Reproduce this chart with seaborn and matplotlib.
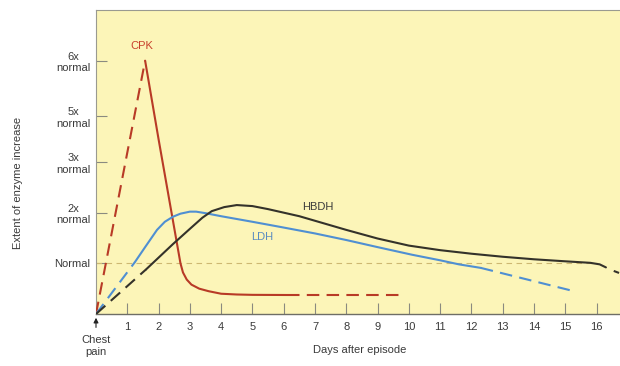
import matplotlib
matplotlib.use('Agg')
import matplotlib.pyplot as plt
import seaborn as sns
import pandas as pd

# ---- data (days after episode, multiple of normal on a stretched scale)
cpk_rise_days = [0, 1.57]
cpk_rise_vals = [0, 5.0]
cpk_fall_days = [1.57, 2.0, 2.4, 2.6, 2.7, 2.78, 2.9, 3.05, 3.3, 3.6, 4.0, 4.5, 5.0, 6.1]
cpk_fall_vals = [5.0, 3.45, 2.05, 1.35, 1.0, 0.82, 0.68, 0.58, 0.5, 0.45, 0.40, 0.385, 0.378, 0.375]
cpk_tail_days = [6.1, 9.8]
cpk_tail_vals = [0.375, 0.375]

ldh_rise_days = [0, 1.25]
ldh_rise_vals = [0, 1.03]
ldh_days = [1.25, 1.57, 1.95, 2.2, 2.46, 2.7, 3.0, 3.2, 3.5, 4.0, 5.0, 5.88, 7.0, 8.0,
            9.0, 10.1, 11.0, 11.6, 12.3]
ldh_vals = [1.03, 1.32, 1.66, 1.82, 1.92, 1.98, 2.02, 2.02, 1.99, 1.93, 1.82, 1.72, 1.59,
            1.46, 1.32, 1.17, 1.06, 0.98, 0.91]
ldh_tail_days = [12.3, 15.15]
ldh_tail_vals = [0.91, 0.47]

hbdh_rise_days = [0, 1.6]
hbdh_rise_vals = [0, 0.88]
hbdh_days = [1.6, 2.46, 3.0, 3.4, 3.7, 4.1, 4.5, 5.0, 5.5, 6.0, 6.5, 7.0, 7.5, 8.0, 9.0,
             10.0, 11.0, 12.0, 13.0, 14.0, 15.0, 15.8, 16.1, 16.3]
hbdh_vals = [0.88, 1.38, 1.68, 1.9, 2.03, 2.11, 2.15, 2.13, 2.07, 2.0, 1.93, 1.84, 1.75,
             1.66, 1.49, 1.35, 1.26, 1.19, 1.13, 1.08, 1.04, 1.01, 0.98, 0.92]
hbdh_tail_days = [16.55, 16.72]
hbdh_tail_vals = [0.85, 0.81]

day_ticks = list(range(1, 17))
level_ticks = [1, 2, 3, 3.9, 5]
level_labels = ['Normal', '2x\nnormal', '3x\nnormal', '5x\nnormal', '6x\nnormal']

# ---- style
sns.set_style('ticks')
plt.rcParams['font.family'] = ['Liberation Sans', 'DejaVu Sans']

cpk_col = '#b83a26'
ldh_col = '#4f8fd2'
hbdh_col = '#34322a'
txt_col = '#3a3a3a'

fig = plt.figure(figsize=(6.2, 3.66), dpi=100)
ax = fig.add_axes([96 / 620, 52 / 366, 1 - 96 / 620, 304 / 366])
ax.set_facecolor('#fcf5b8')

# normal reference line
ax.plot([0, 16], [1, 1], color='#cdb872', lw=0.8, dashes=(5, 4), zorder=1)

segments = [
    (cpk_rise_days, cpk_rise_vals, cpk_col, True),
    (cpk_fall_days, cpk_fall_vals, cpk_col, False),
    (cpk_tail_days, cpk_tail_vals, cpk_col, True),
    (ldh_rise_days, ldh_rise_vals, ldh_col, True),
    (ldh_days, ldh_vals, ldh_col, False),
    (ldh_tail_days, ldh_tail_vals, ldh_col, True),
    (hbdh_rise_days, hbdh_rise_vals, hbdh_col, True),
    (hbdh_days, hbdh_vals, hbdh_col, False),
    (hbdh_tail_days, hbdh_tail_vals, hbdh_col, True),
]
for xs, ys, col, dashed in segments:
    df = pd.DataFrame({'day': xs, 'level': ys})
    sns.lineplot(data=df, x='day', y='level', color=col, lw=1.5,
                 sort=False, estimator=None, ax=ax, zorder=3)
    ax.lines[-1].set_solid_joinstyle('round')
    if dashed:
        ax.lines[-1].set_dashes((6, 3.5))

ax.text(1.47, 5.28, 'CPK', color='#c8402c', fontsize=8, ha='center', va='center')
ax.text(7.1, 2.11, 'HBDH', color=txt_col, fontsize=8, ha='center', va='center')
ax.text(5.3, 1.52, 'LDH', color='#5a8cc0', fontsize=8, ha='center', va='center')

ax.set_xlim(0, 16.75)
ax.set_ylim(0, 6.0)
ax.set_xticks(day_ticks)
ax.set_xticklabels([str(d) for d in day_ticks])
ax.set_yticks(level_ticks)
ax.set_yticklabels(level_labels)
ax.tick_params(axis='both', direction='in', length=8, width=0.8, color='#8a8a80',
               labelsize=8, labelcolor=txt_col)
ax.tick_params(axis='x', pad=6)
ax.tick_params(axis='y', pad=4)
for lab in ax.get_yticklabels():
    lab.set_horizontalalignment('right')
    lab.set_multialignment('center')
ax.set_xlabel('')
ax.set_ylabel('')

for side in ['left', 'top']:
    ax.spines[side].set_color('#9a9a90')
    ax.spines[side].set_linewidth(0.8)
ax.spines['bottom'].set_color('#6e6e66')
ax.spines['bottom'].set_linewidth(1.0)
ax.spines['right'].set_visible(False)

# chest pain marker
ax.annotate('', xy=(0, -0.02), xytext=(0, -0.32), annotation_clip=False,
            arrowprops=dict(arrowstyle='-|>', color='#222222', lw=0.8,
                            mutation_scale=7))
fig.text(96 / 620, 1 - 346 / 366, 'Chest\npain', ha='center', va='center',
         fontsize=8, color=txt_col, linespacing=1.3)
fig.text(360 / 620, 1 - 350 / 366, 'Days after episode', ha='center', va='center',
         fontsize=8, color=txt_col)
fig.text(18 / 620, 0.5, 'Extent of enzyme increase', rotation=90, ha='center',
         va='center', fontsize=8, color=txt_col)

fig.savefig('out.png', dpi=100, facecolor='white')
